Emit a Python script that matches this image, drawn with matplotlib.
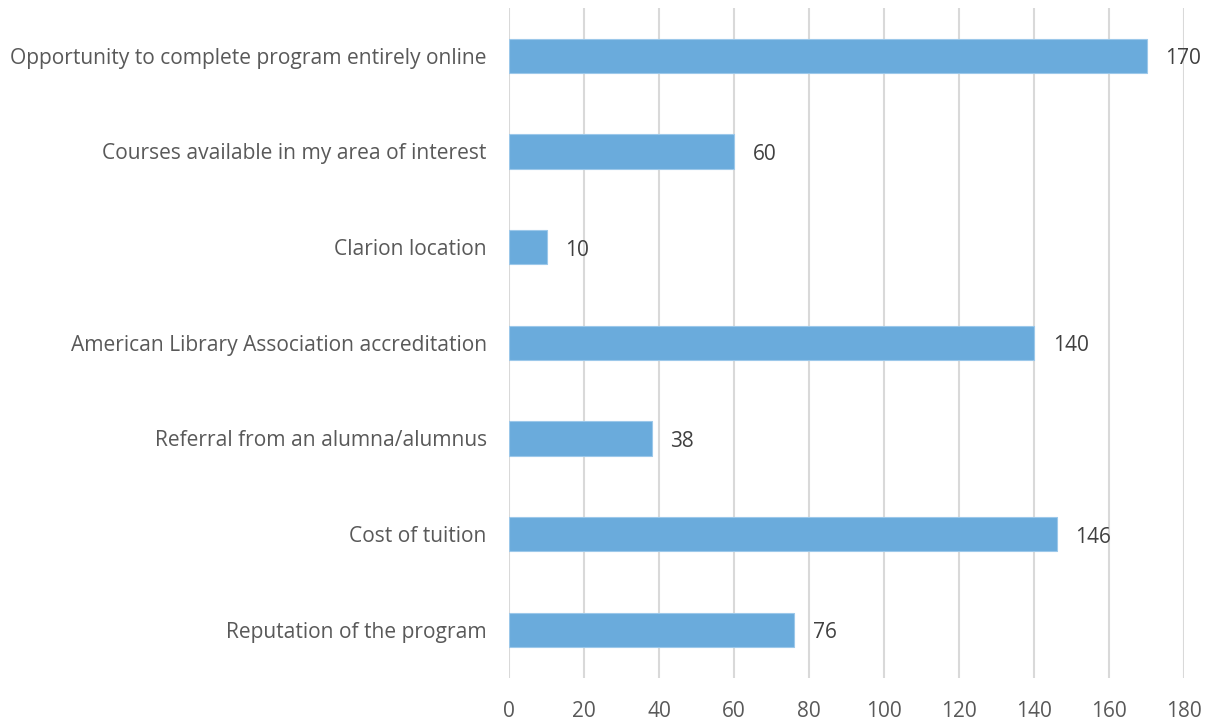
import matplotlib.pyplot as plt

categories = [
    "Reputation of the program",
    "Cost of tuition",
    "Referral from an alumna/alumnus",
    "American Library Association accreditation",
    "Clarion location",
    "Courses available in my area of interest",
    "Opportunity to complete program entirely online",
]
counts = [76, 146, 38, 140, 10, 60, 170]
x_ticks = [0, 20, 40, 60, 80, 100, 120, 140, 160, 180]

plt.rcParams['font.family'] = ['Open Sans', 'DejaVu Sans']

fig = plt.figure(figsize=(12.12, 7.24), dpi=100)
ax = fig.add_axes([0.42, 0.064, 0.557, 0.925])

ax.barh(range(len(categories)), counts, height=0.36, color='#6aabdc',
        edgecolor='#9cc8ea', linewidth=0.8, zorder=3)
for i, v in enumerate(counts):
    ax.text(v + 5, i - 0.03, str(v), va='center', ha='left', fontsize=15, color='#404040')

ax.set_ylim(-0.5, len(categories) - 0.5)
ax.set_xlim(0, 180)
ax.set_xticks(x_ticks)
ax.set_yticks(range(len(categories)))
ax.set_yticklabels(categories, fontsize=15.1, color='#595959')
ax.tick_params(axis='x', labelsize=15, labelcolor='#595959', length=0, pad=17)
ax.tick_params(axis='y', length=0, pad=16)
ax.grid(axis='x', color='#d9d9d9', linewidth=1.5, zorder=0)
for s in ax.spines.values():
    s.set_visible(False)

fig.savefig('out.png', dpi=100)
